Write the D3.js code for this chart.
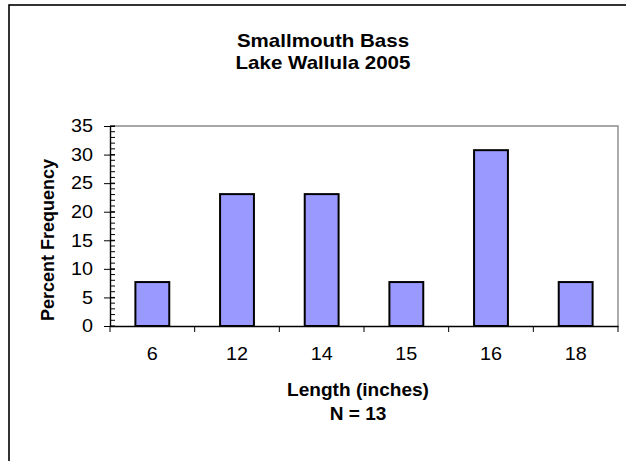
<!DOCTYPE html>
<html>
<head>
<meta charset="utf-8">
<script src="https://cdn.jsdelivr.net/npm/d3@7"></script>
<style>
  html, body { margin: 0; padding: 0; background: #fff; }
  svg { display: block; font-family: Arial, "Liberation Sans", sans-serif; }
</style>
</head>
<body>
<div id="mount"></div>
<script>
var lengths = ['6', '12', '14', '15', '16', '18'];
var percents = [7.69, 23.08, 23.08, 7.69, 30.77, 7.69];
var yTicks = [0, 5, 10, 15, 20, 25, 30, 35];
var titleLines = ['Smallmouth Bass', 'Lake Wallula 2005'];
var xTitleLines = ['Length (inches)', 'N = 13'];
var yTitle = 'Percent Frequency';

var W = 626, H = 461;
var plot = { left: 110, right: 618, top: 126, bottom: 326 };
// the old chart's text is drawn a bit wide, so stretch it sideways
var TICK_SX = 1.1;

var $svg = d3.select('#mount')
  .append('svg')
  .attr('width', W)
  .attr('height', H);

// outer chart border (runs off the right / bottom edge)
$svg.append('rect')
  .attr('x', 9).attr('y', 5)
  .attr('width', 640).attr('height', 480)
  .attr('fill', '#fff')
  .attr('stroke', '#000')
  .attr('stroke-width', 1.6);

var x = d3.scaleBand()
  .domain(lengths)
  .range([plot.left, plot.right])
  .paddingInner(0.6)
  .paddingOuter(0.3);

var y = d3.scaleLinear()
  .domain([0, 35])
  .range([plot.bottom, plot.top]);

// plot area frame: gray top and right
$svg.append('path')
  .attr('d', 'M' + plot.left + ',' + plot.top + 'H' + plot.right + 'V' + plot.bottom)
  .attr('fill', 'none')
  .attr('stroke', '#8a8a8a')
  .attr('stroke-width', 1.4);

// bars
$svg.selectAll('rect.bar')
  .data(percents)
  .enter()
  .append('rect')
  .attr('class', 'bar')
  .attr('x', function (d, i) { return x(lengths[i]); })
  .attr('y', function (d) { return y(d); })
  .attr('width', x.bandwidth())
  .attr('height', function (d) { return y(0) - y(d); })
  .attr('fill', '#9999ff')
  .attr('stroke', '#000')
  .attr('stroke-width', 2);

// y axis: minor ticks inside
var minor = d3.range(0, 36);
$svg.append('g')
  .selectAll('line')
  .data(minor)
  .enter()
  .append('line')
  .attr('x1', plot.left).attr('x2', plot.left + 5)
  .attr('y1', function (d) { return y(d); })
  .attr('y2', function (d) { return y(d); })
  .attr('stroke', '#000')
  .attr('stroke-width', 1);

var yAxis = $svg.append('g')
  .attr('transform', 'translate(' + plot.left + ',0)')
  .call(d3.axisLeft(y).tickValues(yTicks).tickSizeInner(6).tickSizeOuter(0).tickPadding(6));
yAxis.select('.domain').attr('stroke', '#000').attr('stroke-width', 1.4);
yAxis.selectAll('.tick line').attr('x2', 5).attr('x1', -6).attr('stroke', '#000');
yAxis.selectAll('.tick text')
  .attr('x', -17 / TICK_SX)
  .attr('transform', 'scale(' + TICK_SX + ',1)')
  .attr('fill', '#000')
  .style('font-size', '18px');

// x axis: ticks between categories
var xAxis = $svg.append('g')
  .attr('transform', 'translate(0,' + plot.bottom + ')')
  .call(d3.axisBottom(x).tickSize(0).tickPadding(21));
xAxis.select('.domain').attr('stroke', '#000').attr('stroke-width', 1.4);
xAxis.selectAll('.tick text')
  .attr('transform', 'scale(' + TICK_SX + ',1)')
  .attr('fill', '#000')
  .style('font-size', '18px');

var bounds = d3.range(lengths.length + 1).map(function (i) {
  return plot.left + i * (plot.right - plot.left) / lengths.length;
});
$svg.append('g')
  .selectAll('line')
  .data(bounds)
  .enter()
  .append('line')
  .attr('x1', function (d) { return d; })
  .attr('x2', function (d) { return d; })
  .attr('y1', plot.bottom)
  .attr('y2', plot.bottom + 6)
  .attr('stroke', '#000')
  .attr('stroke-width', 1);

// titles
$svg.append('g')
  .selectAll('text')
  .data(titleLines)
  .enter()
  .append('text')
  .attr('transform', function (d, i) { return 'translate(323,' + (47 + i * 22) + ') scale(1.14,1)'; })
  .attr('text-anchor', 'middle')
  .style('font-size', '18px')
  .style('font-weight', 'bold')
  .text(function (d) { return d; });

$svg.append('g')
  .selectAll('text')
  .data(xTitleLines)
  .enter()
  .append('text')
  .attr('transform', function (d, i) { return 'translate(358,' + (396 + i * 24) + ') scale(1.06,1)'; })
  .attr('text-anchor', 'middle')
  .style('font-size', '18px')
  .style('font-weight', 'bold')
  .text(function (d) { return d; });

$svg.append('text')
  .attr('transform', 'translate(54,240) rotate(-90)')
  .attr('text-anchor', 'middle')
  .style('font-size', '18px')
  .style('font-weight', 'bold')
  .text(yTitle);
</script>
</body>
</html>
